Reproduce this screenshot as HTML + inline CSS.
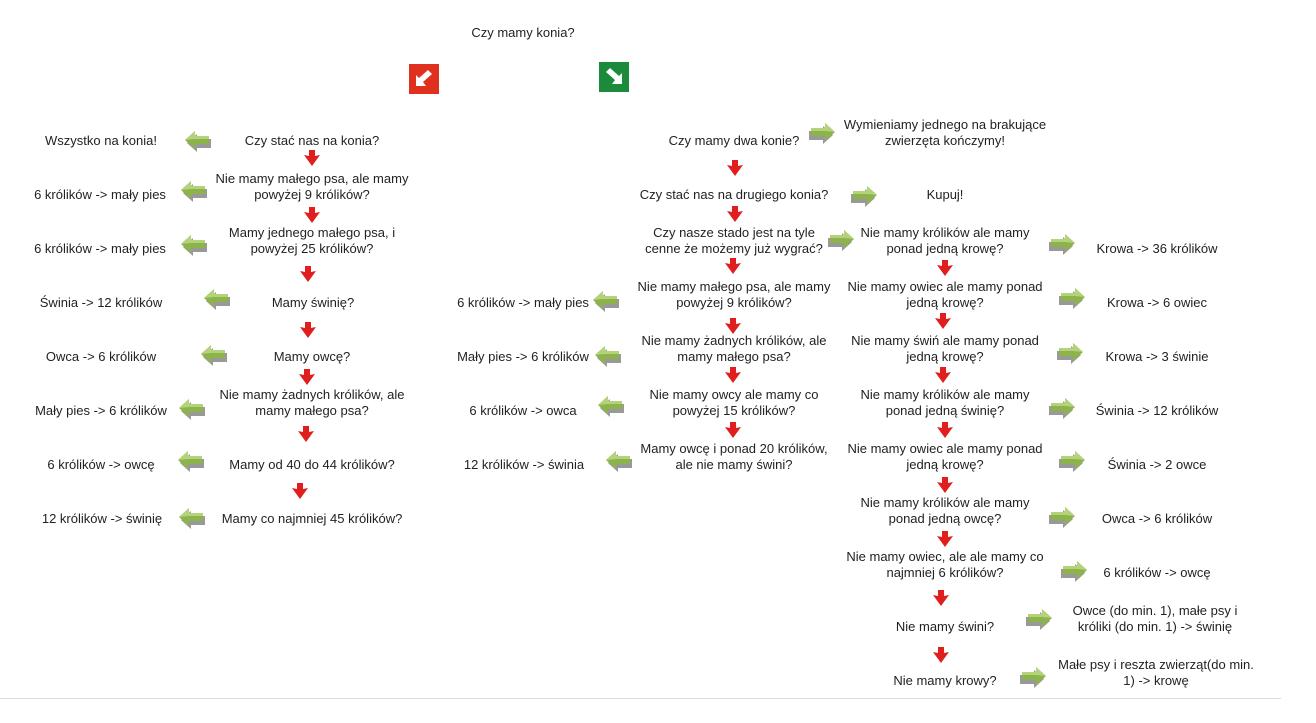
<!DOCTYPE html>
<html><head><meta charset="utf-8"><style>
body{margin:0;width:1316px;height:723px;background:#fff;position:relative;overflow:hidden;font-family:"Liberation Sans",Arial,sans-serif;font-size:13px;color:#222}
.t{position:absolute;transform:translate(-50%,-50%);text-align:center;white-space:nowrap;line-height:16px}
svg.g,svg.r{position:absolute}
.sq{position:absolute;width:30px;height:30px}
</style></head><body>
<svg width="0" height="0" style="position:absolute">
<defs>
<symbol id="gl" viewBox="0 0 28 22">
<polygon points="3,13 13,4 13,9 27,9 27,18 13,18 13,22" fill="#555" opacity=".6"/>
<polygon points="1,10 11,1 11,6 25,6 25,14 11,14 11,19" fill="#8cb44a"/>
<polygon points="1,10 11,1 11,6 25,6 25,9 11,9" fill="#b3d27a"/>
</symbol>
<symbol id="gr" viewBox="0 0 28 22">
<polygon points="25,13 15,4 15,9 1,9 1,18 15,18 15,22" fill="#555" opacity=".6"/>
<polygon points="27,10 17,1 17,6 3,6 3,14 17,14 17,19" fill="#8cb44a"/>
<polygon points="27,10 17,1 17,6 3,6 3,9 17,9" fill="#b3d27a"/>
</symbol>
<symbol id="rd" viewBox="0 0 16 16">
<polygon points="5,0 11,0 11,6 16,5 8,16 0,5 5,6" fill="#e01e1e"/>
</symbol>
</defs></svg>

<div class="t" style="left:523px;top:33px">Czy mamy konia?</div>
<div class="sq" style="left:409px;top:64px;background:#e0301e"><svg width="30" height="30"><polygon points="7,22 7,11 10,14 19,6 23,10 14,18 17,22" fill="#fff"/></svg></div>
<div class="sq" style="left:599px;top:62px;background:#1b8a3a"><svg width="30" height="30"><polygon points="23,22 23,11 20,14 11,6 7,10 16,18 13,22" fill="#fff"/></svg></div>

<!-- left column -->
<div class="t" style="left:101px;top:141px">Wszystko na konia!</div>
<div class="t" style="left:312px;top:141px">Czy stać nas na konia?</div>
<div class="t" style="left:100px;top:195px">6 królików -&gt; mały pies</div>
<div class="t" style="left:312px;top:187px">Nie mamy małego psa, ale mamy<br>powyżej 9 królików?</div>
<div class="t" style="left:100px;top:249px">6 królików -&gt; mały pies</div>
<div class="t" style="left:312px;top:241px">Mamy jednego małego psa, i<br>powyżej 25 królików?</div>
<div class="t" style="left:101px;top:303px">Świnia -&gt; 12 królików</div>
<div class="t" style="left:313px;top:303px">Mamy świnię?</div>
<div class="t" style="left:101px;top:357px">Owca -&gt; 6 królików</div>
<div class="t" style="left:312px;top:357px">Mamy owcę?</div>
<div class="t" style="left:101px;top:411px">Mały pies -&gt; 6 królików</div>
<div class="t" style="left:312px;top:403px">Nie mamy żadnych królików, ale<br>mamy małego psa?</div>
<div class="t" style="left:101px;top:465px">6 królików -&gt; owcę</div>
<div class="t" style="left:312px;top:465px">Mamy od 40 do 44 królików?</div>
<div class="t" style="left:102px;top:519px">12 królików -&gt; świnię</div>
<div class="t" style="left:312px;top:519px">Mamy co najmniej 45 królików?</div>

<!-- middle -->
<div class="t" style="left:523px;top:303px">6 królików -&gt; mały pies</div>
<div class="t" style="left:734px;top:295px">Nie mamy małego psa, ale mamy<br>powyżej 9 królików?</div>
<div class="t" style="left:523px;top:357px">Mały pies -&gt; 6 królików</div>
<div class="t" style="left:734px;top:349px">Nie mamy żadnych królików, ale<br>mamy małego psa?</div>
<div class="t" style="left:523px;top:411px">6 królików -&gt; owca</div>
<div class="t" style="left:734px;top:403px">Nie mamy owcy ale mamy co<br>powyżej 15 królików?</div>
<div class="t" style="left:524px;top:465px">12 królików -&gt; świnia</div>
<div class="t" style="left:734px;top:457px">Mamy owcę i ponad 20 królików,<br>ale nie mamy świni?</div>
<div class="t" style="left:734px;top:141px">Czy mamy dwa konie?</div>
<div class="t" style="left:734px;top:195px">Czy stać nas na drugiego konia?</div>
<div class="t" style="left:734px;top:241px">Czy nasze stado jest na tyle<br>cenne że możemy już wygrać?</div>
<div class="t" style="left:945px;top:133px">Wymieniamy jednego na brakujące<br>zwierzęta kończymy!</div>
<div class="t" style="left:945px;top:195px">Kupuj!</div>

<!-- right -->
<div class="t" style="left:945px;top:241px">Nie mamy królików ale mamy<br>ponad jedną krowę?</div>
<div class="t" style="left:945px;top:295px">Nie mamy owiec ale mamy ponad<br>jedną krowę?</div>
<div class="t" style="left:945px;top:349px">Nie mamy świń ale mamy ponad<br>jedną krowę?</div>
<div class="t" style="left:945px;top:403px">Nie mamy królików ale mamy<br>ponad jedną świnię?</div>
<div class="t" style="left:945px;top:457px">Nie mamy owiec ale mamy ponad<br>jedną krowę?</div>
<div class="t" style="left:945px;top:511px">Nie mamy królików ale mamy<br>ponad jedną owcę?</div>
<div class="t" style="left:945px;top:565px">Nie mamy owiec, ale ale mamy co<br>najmniej 6 królików?</div>
<div class="t" style="left:945px;top:627px">Nie mamy świni?</div>
<div class="t" style="left:945px;top:681px">Nie mamy krowy?</div>
<div class="t" style="left:1157px;top:249px">Krowa -&gt; 36 królików</div>
<div class="t" style="left:1157px;top:303px">Krowa -&gt; 6 owiec</div>
<div class="t" style="left:1157px;top:357px">Krowa -&gt; 3 świnie</div>
<div class="t" style="left:1157px;top:411px">Świnia -&gt; 12 królików</div>
<div class="t" style="left:1157px;top:465px">Świnia -&gt; 2 owce</div>
<div class="t" style="left:1157px;top:519px">Owca -&gt; 6 królików</div>
<div class="t" style="left:1157px;top:573px">6 królików -&gt; owcę</div>
<div class="t" style="left:1155px;top:619px">Owce (do min. 1), małe psy i<br>króliki (do min. 1) -&gt; świnię</div>
<div class="t" style="left:1156px;top:673px">Małe psy i reszta zwierząt(do min.<br>1) -&gt; krowę</div>

<!-- green left arrows -->
<svg class="g" style="left:184px;top:130px" width="28" height="22"><use href="#gl"/></svg>
<svg class="g" style="left:180px;top:180px" width="28" height="22"><use href="#gl"/></svg>
<svg class="g" style="left:180px;top:234px" width="28" height="22"><use href="#gl"/></svg>
<svg class="g" style="left:203px;top:288px" width="28" height="22"><use href="#gl"/></svg>
<svg class="g" style="left:200px;top:344px" width="28" height="22"><use href="#gl"/></svg>
<svg class="g" style="left:178px;top:398px" width="28" height="22"><use href="#gl"/></svg>
<svg class="g" style="left:177px;top:450px" width="28" height="22"><use href="#gl"/></svg>
<svg class="g" style="left:178px;top:507px" width="28" height="22"><use href="#gl"/></svg>
<svg class="g" style="left:592px;top:290px" width="28" height="22"><use href="#gl"/></svg>
<svg class="g" style="left:594px;top:345px" width="28" height="22"><use href="#gl"/></svg>
<svg class="g" style="left:597px;top:395px" width="28" height="22"><use href="#gl"/></svg>
<svg class="g" style="left:605px;top:450px" width="28" height="22"><use href="#gl"/></svg>

<!-- green right arrows -->
<svg class="g" style="left:808px;top:122px" width="28" height="22"><use href="#gr"/></svg>
<svg class="g" style="left:850px;top:185px" width="28" height="22"><use href="#gr"/></svg>
<svg class="g" style="left:827px;top:229px" width="28" height="22"><use href="#gr"/></svg>
<svg class="g" style="left:1048px;top:233px" width="28" height="22"><use href="#gr"/></svg>
<svg class="g" style="left:1058px;top:287px" width="28" height="22"><use href="#gr"/></svg>
<svg class="g" style="left:1056px;top:342px" width="28" height="22"><use href="#gr"/></svg>
<svg class="g" style="left:1048px;top:397px" width="28" height="22"><use href="#gr"/></svg>
<svg class="g" style="left:1058px;top:450px" width="28" height="22"><use href="#gr"/></svg>
<svg class="g" style="left:1048px;top:506px" width="28" height="22"><use href="#gr"/></svg>
<svg class="g" style="left:1060px;top:560px" width="28" height="22"><use href="#gr"/></svg>
<svg class="g" style="left:1025px;top:608px" width="28" height="22"><use href="#gr"/></svg>
<svg class="g" style="left:1019px;top:666px" width="28" height="22"><use href="#gr"/></svg>

<!-- red down arrows -->
<svg class="r" style="left:304px;top:150px" width="16" height="16"><use href="#rd"/></svg>
<svg class="r" style="left:304px;top:207px" width="16" height="16"><use href="#rd"/></svg>
<svg class="r" style="left:300px;top:266px" width="16" height="16"><use href="#rd"/></svg>
<svg class="r" style="left:300px;top:322px" width="16" height="16"><use href="#rd"/></svg>
<svg class="r" style="left:299px;top:369px" width="16" height="16"><use href="#rd"/></svg>
<svg class="r" style="left:298px;top:426px" width="16" height="16"><use href="#rd"/></svg>
<svg class="r" style="left:292px;top:483px" width="16" height="16"><use href="#rd"/></svg>
<svg class="r" style="left:727px;top:160px" width="16" height="16"><use href="#rd"/></svg>
<svg class="r" style="left:727px;top:206px" width="16" height="16"><use href="#rd"/></svg>
<svg class="r" style="left:725px;top:258px" width="16" height="16"><use href="#rd"/></svg>
<svg class="r" style="left:725px;top:318px" width="16" height="16"><use href="#rd"/></svg>
<svg class="r" style="left:725px;top:367px" width="16" height="16"><use href="#rd"/></svg>
<svg class="r" style="left:725px;top:422px" width="16" height="16"><use href="#rd"/></svg>
<svg class="r" style="left:937px;top:260px" width="16" height="16"><use href="#rd"/></svg>
<svg class="r" style="left:935px;top:313px" width="16" height="16"><use href="#rd"/></svg>
<svg class="r" style="left:935px;top:367px" width="16" height="16"><use href="#rd"/></svg>
<svg class="r" style="left:937px;top:422px" width="16" height="16"><use href="#rd"/></svg>
<svg class="r" style="left:937px;top:477px" width="16" height="16"><use href="#rd"/></svg>
<svg class="r" style="left:937px;top:531px" width="16" height="16"><use href="#rd"/></svg>
<svg class="r" style="left:933px;top:590px" width="16" height="16"><use href="#rd"/></svg>
<svg class="r" style="left:933px;top:647px" width="16" height="16"><use href="#rd"/></svg>

<div style="position:absolute;left:0;top:698px;width:1281px;height:1px;background:#ddd"></div>
</body></html>
